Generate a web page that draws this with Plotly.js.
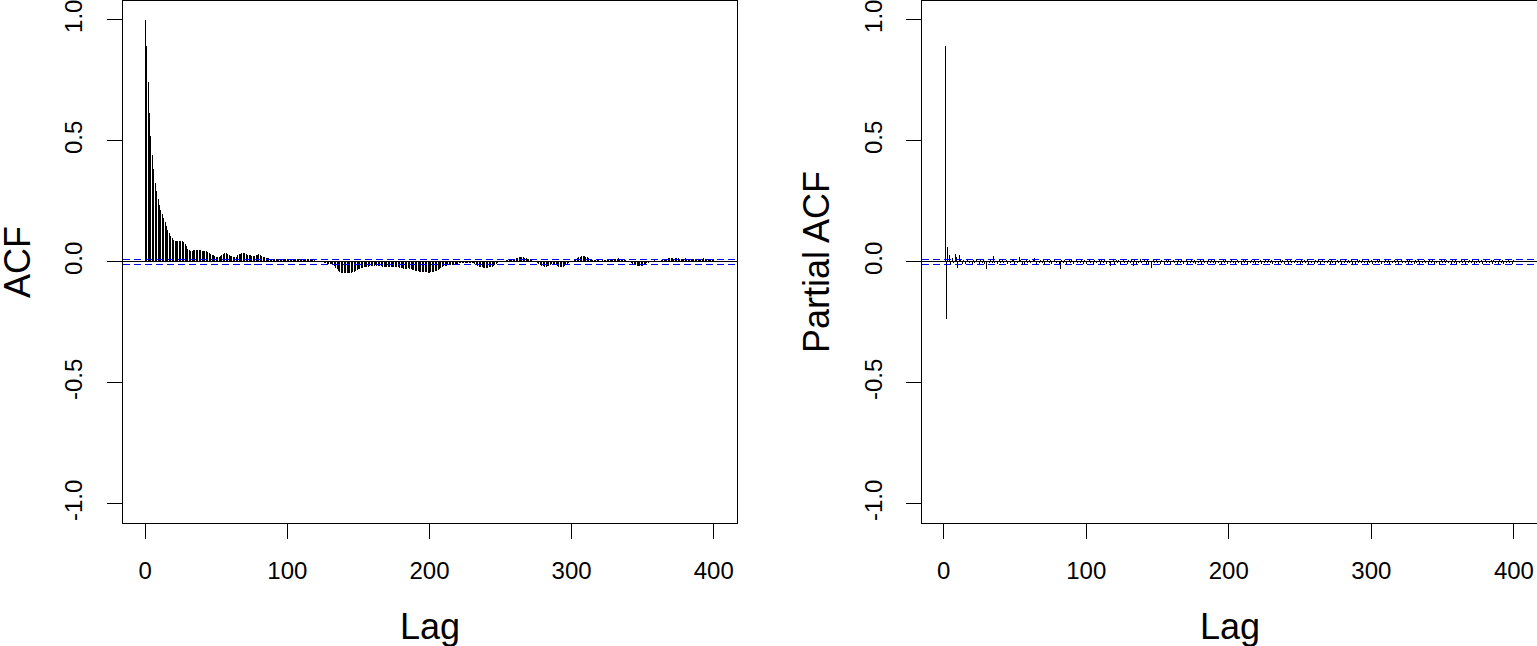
<!DOCTYPE html>
<html>
<head>
<meta charset="utf-8">
<script src="https://cdn.plot.ly/plotly-3.0.1.min.js"></script>
<style>
	html, body { margin: 0; padding: 0; background: #fff; }
	#plot { width: 1537px; height: 646px; }
	/* R's png output is not anti-aliased for lines: keep the stems crisp */
	#plot .scatterlayer path,
	#plot .shapelayer path { shape-rendering: crispEdges; }
</style>
</head>
<body>
<div id="plot"></div>
<script>
// ACF, lags 0..400
const acfValues = [
	1.000, 0.890, 0.742, 0.617, 0.522, 0.443, 0.382, 0.328, 0.291, 0.260, 0.237, 0.215, 0.198, 0.182, 0.165, 0.149, 0.132, 0.121, 0.106, 0.099, // 0-19
	0.090, 0.085, 0.085, 0.088, 0.088, 0.088, 0.087, 0.081, 0.074, 0.065, 0.055, 0.050, 0.047, 0.047, 0.050, 0.051, 0.050, 0.049, 0.050, 0.048, // 20-39
	0.046, 0.044, 0.044, 0.043, 0.041, 0.037, 0.033, 0.030, 0.027, 0.023, 0.021, 0.019, 0.020, 0.024, 0.029, 0.033, 0.036, 0.036, 0.033, 0.029, // 40-59
	0.026, 0.023, 0.021, 0.020, 0.022, 0.027, 0.031, 0.034, 0.036, 0.036, 0.035, 0.032, 0.030, 0.028, 0.027, 0.026, 0.025, 0.026, 0.028, 0.030, // 60-79
	0.031, 0.030, 0.026, 0.022, 0.019, 0.018, 0.016, 0.015, 0.013, 0.012, 0.011, 0.012, 0.013, 0.012, 0.011, 0.010, 0.009, 0.010, 0.012, 0.013, // 80-99
	0.014, 0.013, 0.011, 0.009, 0.010, 0.012, 0.013, 0.012, 0.011, 0.010, 0.010, 0.011, 0.010, 0.009, 0.010, 0.011, 0.010, 0.009, 0.008, 0.007, // 100-119
	0.005, 0.004, 0.004, 0.003, 0.001, -0.002, -0.004, -0.006, -0.008, -0.008, -0.007, -0.009, -0.012, -0.017, -0.024, -0.031, -0.037, -0.041, -0.044, -0.046, // 120-139
	-0.047, -0.047, -0.046, -0.045, -0.045, -0.044, -0.043, -0.040, -0.037, -0.034, -0.031, -0.028, -0.026, -0.024, -0.023, -0.022, -0.020, -0.019, -0.018, -0.017, // 140-159
	-0.016, -0.015, -0.014, -0.015, -0.016, -0.017, -0.018, -0.019, -0.020, -0.020, -0.021, -0.021, -0.022, -0.022, -0.023, -0.022, -0.021, -0.022, -0.023, -0.024, // 160-179
	-0.025, -0.027, -0.028, -0.029, -0.028, -0.027, -0.028, -0.030, -0.032, -0.035, -0.037, -0.038, -0.039, -0.040, -0.041, -0.042, -0.042, -0.043, -0.043, -0.044, // 180-199
	-0.044, -0.043, -0.042, -0.041, -0.039, -0.036, -0.033, -0.029, -0.025, -0.021, -0.018, -0.016, -0.015, -0.014, -0.013, -0.012, -0.011, -0.010, -0.009, -0.008, // 200-219
	-0.007, -0.006, -0.005, -0.004, -0.004, -0.005, -0.006, -0.006, -0.005, -0.004, -0.003, -0.005, -0.008, -0.012, -0.016, -0.019, -0.021, -0.023, -0.024, -0.025, // 220-239
	-0.025, -0.024, -0.023, -0.021, -0.019, -0.016, -0.012, -0.008, -0.004, -0.001, 0.002, 0.003, 0.004, 0.005, 0.006, 0.006, 0.007, 0.008, 0.009, 0.010, // 240-259
	0.012, 0.015, 0.017, 0.019, 0.020, 0.021, 0.020, 0.018, 0.016, 0.013, 0.011, 0.010, 0.008, 0.005, 0.002, -0.001, -0.004, -0.008, -0.012, -0.015, // 260-279
	-0.017, -0.019, -0.019, -0.018, -0.016, -0.013, -0.010, -0.008, -0.009, -0.012, -0.016, -0.019, -0.021, -0.022, -0.020, -0.017, -0.013, -0.009, -0.005, -0.001, // 280-299
	0.002, 0.005, 0.008, 0.012, 0.016, 0.019, 0.022, 0.024, 0.025, 0.024, 0.022, 0.019, 0.016, 0.013, 0.011, 0.009, 0.008, 0.007, 0.006, 0.006, // 300-319
	0.005, 0.005, 0.006, 0.007, 0.008, 0.010, 0.012, 0.013, 0.014, 0.014, 0.013, 0.012, 0.014, 0.015, 0.014, 0.012, 0.010, 0.008, 0.006, 0.003, // 320-339
	0.001, -0.002, -0.005, -0.008, -0.011, -0.014, -0.016, -0.017, -0.018, -0.017, -0.015, -0.012, -0.009, -0.006, -0.003, 0.000, 0.003, 0.005, 0.006, 0.005, // 340-359
	0.004, 0.003, 0.004, 0.006, 0.008, 0.010, 0.012, 0.014, 0.015, 0.016, 0.016, 0.015, 0.014, 0.015, 0.016, 0.015, 0.013, 0.012, 0.013, 0.014, // 360-379
	0.015, 0.014, 0.012, 0.011, 0.010, 0.011, 0.012, 0.013, 0.012, 0.011, 0.010, 0.012, 0.014, 0.015, 0.013, 0.011, 0.009, 0.008, 0.009, 0.010, // 380-399
	0.011 // 400
];

// Partial ACF, lags 1..400
const pacfValues = [
	0.890, -0.234, 0.063, 0.030, -0.014, 0.017, -0.006, 0.034, 0.022, -0.025, 0.030, 0.008, -0.010, 0.006, -0.008, 0.005, 0.012, -0.006, 0.004, -0.009, // 1-20
	0.007, -0.005, 0.014, 0.003, -0.008, 0.006, -0.004, 0.009, -0.007, -0.029, 0.005, -0.006, 0.008, -0.003, 0.026, -0.005, 0.004, -0.010, 0.006, -0.004, // 21-40
	0.008, -0.006, 0.003, 0.009, -0.008, 0.005, -0.004, 0.011, 0.007, -0.009, 0.004, -0.005, 0.019, 0.006, -0.007, 0.003, -0.010, 0.007, -0.004, 0.008, // 41-60
	-0.006, 0.005, 0.010, 0.017, -0.012, 0.004, -0.006, 0.009, -0.003, 0.007, -0.008, 0.004, 0.012, -0.005, 0.006, -0.009, 0.003, 0.008, -0.006, 0.005, // 61-80
	-0.007, -0.030, 0.006, -0.004, 0.009, -0.008, 0.004, 0.007, -0.005, 0.010, -0.009, 0.003, 0.008, -0.006, 0.005, -0.004, 0.008, -0.007, 0.006, -0.010, // 81-100
	0.004, 0.009, -0.006, 0.005, -0.008, 0.007, -0.005, 0.003, 0.008, -0.009, 0.006, -0.004, 0.010, -0.007, 0.005, -0.006, -0.017, 0.004, 0.007, -0.008, // 101-120
	0.006, -0.005, 0.009, -0.007, 0.004, 0.008, -0.006, 0.005, -0.009, 0.007, -0.004, 0.006, -0.017, 0.009, -0.008, 0.005, -0.006, 0.010, -0.005, 0.004, // 121-140
	0.008, -0.007, 0.006, -0.010, 0.005, -0.025, 0.007, -0.004, 0.009, -0.006, 0.005, -0.008, 0.006, 0.004, -0.007, 0.008, -0.005, 0.006, -0.009, 0.004, // 141-160
	0.007, -0.006, 0.005, -0.008, 0.009, -0.004, 0.006, -0.007, 0.005, 0.008, -0.009, 0.004, -0.006, 0.007, -0.005, 0.009, -0.008, 0.005, -0.004, 0.006, // 161-180
	-0.007, 0.008, -0.005, 0.004, -0.009, 0.006, -0.006, 0.007, -0.004, 0.009, -0.008, 0.005, -0.006, 0.004, -0.012, 0.007, -0.005, 0.006, -0.008, 0.005, // 181-200
	-0.006, 0.008, -0.004, 0.005, -0.007, 0.009, -0.005, 0.004, -0.008, 0.006, -0.004, 0.007, -0.009, 0.005, -0.006, 0.008, -0.004, 0.006, -0.007, 0.005, // 201-220
	-0.005, 0.007, -0.008, 0.004, -0.006, 0.009, -0.005, 0.006, -0.004, 0.008, -0.007, 0.005, -0.006, 0.004, -0.008, 0.007, -0.005, 0.006, -0.009, 0.004, // 221-240
	0.006, -0.007, 0.008, -0.005, 0.004, -0.006, 0.009, -0.004, 0.005, -0.008, 0.007, -0.005, 0.006, -0.004, 0.008, -0.007, 0.005, -0.006, 0.004, -0.009, // 241-260
	0.007, -0.005, 0.006, -0.008, 0.004, 0.009, -0.006, 0.005, -0.004, 0.007, -0.008, 0.006, -0.005, 0.004, -0.007, 0.008, -0.004, 0.006, -0.009, 0.005, // 261-280
	-0.006, 0.007, -0.004, 0.008, -0.005, 0.006, -0.007, 0.004, -0.008, 0.009, -0.005, 0.006, -0.004, 0.007, -0.006, 0.005, -0.009, 0.008, -0.004, 0.006, // 281-300
	-0.007, 0.005, -0.006, 0.009, -0.004, 0.007, -0.008, 0.005, -0.005, 0.006, -0.004, 0.008, -0.007, 0.004, -0.006, 0.009, -0.005, 0.006, -0.008, 0.004, // 301-320
	0.007, -0.006, 0.005, -0.004, 0.008, -0.009, 0.006, -0.005, 0.004, -0.007, 0.008, -0.004, 0.006, -0.008, 0.005, -0.006, 0.007, -0.005, 0.004, -0.009, // 321-340
	0.006, -0.004, 0.008, -0.007, 0.005, -0.006, 0.004, -0.008, 0.009, -0.005, 0.006, -0.004, 0.007, -0.006, 0.005, -0.009, 0.008, -0.004, 0.006, -0.007, // 341-360
	0.005, -0.006, 0.009, -0.004, 0.007, -0.008, 0.005, -0.005, 0.006, -0.004, 0.008, -0.007, 0.004, -0.006, 0.009, -0.005, 0.006, -0.008, 0.004, 0.007, // 361-380
	-0.006, 0.005, -0.004, 0.008, -0.009, 0.006, -0.005, 0.004, -0.007, 0.008, -0.004, 0.006, -0.008, 0.005, -0.006, 0.007, -0.005, 0.004, -0.009, 0.006  // 381-400
];

const acfLags = acfValues.map((v, i) => i);
const pacfLags = pacfValues.map((v, i) => i + 1);

// approx 95% white-noise band drawn by R
const confBound = 0.0104;

const xTicks = [0, 100, 200, 300, 400];
const yTicks = [-1.0, -0.5, 0.0, 0.5, 1.0];
const yTickText = ['-1.0', '-0.5', '0.0', '0.5', '1.0'];

const FONT = 'Liberation Sans, Arial, Helvetica, sans-serif';

/**
 * type = "h" style stems, one segment per lag
 */
function stems( lags, vals, xaxis, yaxis ){
	const x = [], y = [];
	lags.forEach(( lag, i ) => {
		x.push(lag, lag, null);
		y.push(0, vals[i], null);
	});
	return {
		x, y, xaxis, yaxis,
		type: 'scatter',
		mode: 'lines',
		line: { color: '#000', width: 1 },
		hoverinfo: 'skip',
		showlegend: false,
	};
}

function xAxis( domain, range, anchor ){
	return {
		domain, range, anchor,
		tickmode: 'array',
		tickvals: xTicks,
		ticks: 'outside',
		ticklen: 15,
		tickwidth: 1,
		tickcolor: '#000',
		ticklabelstandoff: 11,
		ticklabeloverflow: 'allow',
		tickfont: { family: FONT, size: 24, color: '#000' },
		showline: true,
		mirror: true,
		linecolor: '#000',
		linewidth: 1,
		showgrid: false,
		zeroline: false,
		automargin: false,
	};
}

function yAxis( domain, anchor ){
	return {
		domain, anchor,
		range: [-1.08, 1.08],
		tickmode: 'array',
		tickvals: yTicks,
		ticktext: yTickText,
		tickangle: -90,
		ticks: 'outside',
		ticklen: 15,
		tickwidth: 1,
		tickcolor: '#000',
		ticklabelstandoff: 15,
		ticklabeloverflow: 'allow',
		tickfont: { family: FONT, size: 24, color: '#000' },
		showline: true,
		mirror: true,
		linecolor: '#000',
		linewidth: 1,
		showgrid: false,
		zeroline: true,
		zerolinecolor: '#000',
		zerolinewidth: 1,
		automargin: false,
	};
}

const W = 1537, H = 646;
const yDomain = [1 - 523.3 / H, 1 - 0.5 / H];
const leftDomain = [122.5 / W, 736.5 / W];
const rightDomain = [922.3 / W, 1536.7 / W];

function band( xref, yref, yv ){
	return {
		type: 'line', xref: `${xref} domain`, yref,
		x0: 0, x1: 1, y0: yv, y1: yv,
		line: { color: '#0000FF', width: 1, dash: '7px,4px' },
	};
}

function label( text, x, y, angle ){
	return {
		text, x, y, xref: 'paper', yref: 'paper',
		xanchor: 'center', yanchor: 'middle',
		textangle: angle, showarrow: false,
		font: { family: FONT, size: 36, color: '#000' },
	};
}

const data = [
	stems(acfLags, acfValues, 'x', 'y'),
	stems(pacfLags, pacfValues, 'x2', 'y2'),
];

const layout = {
	width: W,
	height: H,
	margin: { l: 0, r: 0, t: 0, b: 0, pad: 0 },
	paper_bgcolor: '#fff',
	plot_bgcolor: '#fff',
	showlegend: false,
	xaxis: xAxis(leftDomain, [-16, 416], 'y'),
	yaxis: yAxis(yDomain, 'x'),
	xaxis2: xAxis(rightDomain, [-14.96, 415.96], 'y2'),
	yaxis2: yAxis(yDomain, 'x2'),
	shapes: [
		band('x', 'y', confBound),
		band('x', 'y', -confBound),
		band('x2', 'y2', confBound),
		band('x2', 'y2', -confBound),
	],
	annotations: [
		label('Lag', (leftDomain[0] + leftDomain[1]) / 2, 1 - 626 / H, 0),
		label('Lag', (rightDomain[0] + rightDomain[1]) / 2, 1 - 626 / H, 0),
		label('ACF', 17 / W, 1 - 262 / H, -90),
		label('Partial ACF', 816 / W, 1 - 262 / H, -90),
	],
};

Plotly.newPlot('plot', data, layout, { displayModeBar: false, staticPlot: true });
</script>
</body>
</html>
